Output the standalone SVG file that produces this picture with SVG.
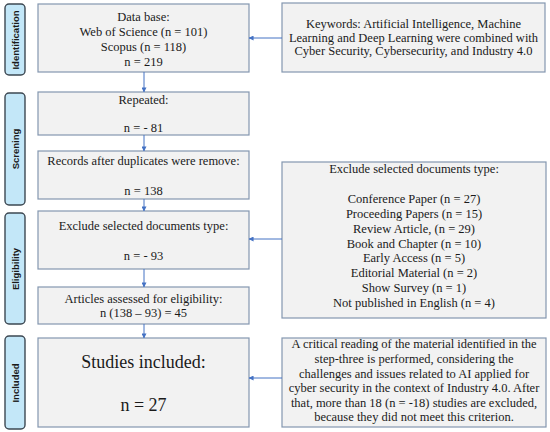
<svg xmlns="http://www.w3.org/2000/svg" width="550" height="432" viewBox="0 0 550 432">
<defs>
<style>
.bg{fill:#ffffff}
.box{fill:#f2f2f2;stroke:#8497b0;stroke-width:1.2}
.side{fill:#c3e7f8;stroke:#3d4852;stroke-width:1.4}
.t{font-family:"Liberation Serif","Times New Roman",serif;font-size:12.5px;fill:#1a1a1a;text-anchor:middle}
.big{font-size:18px}
.s{font-family:"Liberation Sans",Arial,sans-serif;font-size:9.5px;font-weight:bold;fill:#1a1a1a;text-anchor:middle}
.c{stroke:#4472c4;stroke-width:1;fill:none}
</style>
<marker id="ah" viewBox="0 0 6 6" refX="5.5" refY="3" markerWidth="5" markerHeight="5" orient="auto" markerUnits="userSpaceOnUse">
<path d="M0,0 L6,3 L0,6 z" fill="#4472c4"/>
</marker>
</defs>
<rect class="bg" x="0" y="0" width="550" height="432"/>

<g id="side-identification"><rect class="side" x="5" y="4" width="20" height="71" rx="4"/><text class="s" transform="translate(18.5,40) rotate(-90)">Identification</text></g>
<g id="side-screening"><rect class="side" x="5" y="93" width="20" height="112" rx="4"/><text class="s" transform="translate(18.5,149) rotate(-90)">Screning</text></g>
<g id="side-eligibility"><rect class="side" x="5" y="213" width="20" height="111" rx="4"/><text class="s" transform="translate(18.5,269) rotate(-90)">Eligibility</text></g>
<g id="side-included"><rect class="side" x="5" y="336" width="20" height="93" rx="4"/><text class="s" transform="translate(18.5,383) rotate(-90)">Included</text></g>

<g id="database"><rect class="box" x="38" y="4" width="211" height="68"/>
<text class="t" x="143.5" y="21">Data base:</text>
<text class="t" x="143.5" y="36">Web of Science (n = 101)</text>
<text class="t" x="143.5" y="51">Scopus (n = 118)</text>
<text class="t" x="143.5" y="66">n = 219</text></g>

<g id="repeated"><rect class="box" x="38" y="92" width="211" height="43"/>
<text class="t" x="143.5" y="104">Repeated:</text>
<text class="t" x="143.5" y="132">n = - 81</text></g>

<g id="records"><rect class="box" x="38" y="151" width="211" height="48"/>
<text class="t" x="143.5" y="165">Records after duplicates were remove:</text>
<text class="t" x="143.5" y="195">n = 138</text></g>

<g id="exclude"><rect class="box" x="38" y="211" width="211" height="58"/>
<text class="t" x="143.5" y="230">Exclude selected documents type:</text>
<text class="t" x="143.5" y="260">n = - 93</text></g>

<g id="articles"><rect class="box" x="38" y="287" width="211" height="37"/>
<text class="t" x="143.5" y="303">Articles assessed for eligibility:</text>
<text class="t" x="143.5" y="317">n (138 – 93) = 45</text></g>

<g id="studies"><rect class="box" x="38" y="338" width="211" height="89"/>
<text class="t big" x="143.5" y="368">Studies included:</text>
<text class="t big" x="143.5" y="411">n = 27</text></g>

<g id="keywords"><rect class="box" x="282" y="3" width="263" height="69"/>
<text class="t" x="413.5" y="28">Keywords: Artificial Intelligence, Machine</text>
<text class="t" x="413.5" y="41.5">Learning and Deep Learning were combined with</text>
<text class="t" x="413.5" y="55">Cyber Security, Cybersecurity, and Industry 4.0</text></g>

<g id="exclude-types"><rect class="box" x="282" y="162" width="264" height="156"/>
<text class="t" x="414" y="173">Exclude selected documents type:</text>
<text class="t" x="414" y="203">Conference Paper (n = 27)</text>
<text class="t" x="414" y="218">Proceeding Papers (n = 15)</text>
<text class="t" x="414" y="233">Review Article, (n = 29)</text>
<text class="t" x="414" y="248">Book and Chapter (n = 10)</text>
<text class="t" x="414" y="262">Early Access (n = 5)</text>
<text class="t" x="414" y="277">Editorial Material (n = 2)</text>
<text class="t" x="414" y="292">Show Survey (n = 1)</text>
<text class="t" x="414" y="307">Not published in English (n = 4)</text></g>

<g id="critical"><rect class="box" x="282" y="338" width="264" height="89"/>
<text class="t" x="414" y="348">A critical reading of the material identified in the</text>
<text class="t" x="414" y="363">step-three is performed, considering the</text>
<text class="t" x="414" y="378">challenges and issues related to AI applied for</text>
<text class="t" x="414" y="392">cyber security in the context of Industry 4.0. After</text>
<text class="t" x="414" y="407">that, more than 18 (n = -18) studies are excluded,</text>
<text class="t" x="414" y="421">because they did not meet this criterion.</text></g>

<g id="connectors">
<line class="c" x1="144" y1="72" x2="144" y2="92" marker-end="url(#ah)"/>
<line class="c" x1="144" y1="135" x2="144" y2="151" marker-end="url(#ah)"/>
<line class="c" x1="144" y1="199" x2="144" y2="211" marker-end="url(#ah)"/>
<line class="c" x1="144" y1="269" x2="144" y2="287" marker-end="url(#ah)"/>
<line class="c" x1="144" y1="324" x2="144" y2="338" marker-end="url(#ah)"/>
<line class="c" x1="282" y1="38" x2="249" y2="38" marker-end="url(#ah)"/>
<line class="c" x1="282" y1="239" x2="249" y2="239" marker-end="url(#ah)"/>
<line class="c" x1="282" y1="378" x2="249" y2="378" marker-end="url(#ah)"/>
</g>
</svg>
